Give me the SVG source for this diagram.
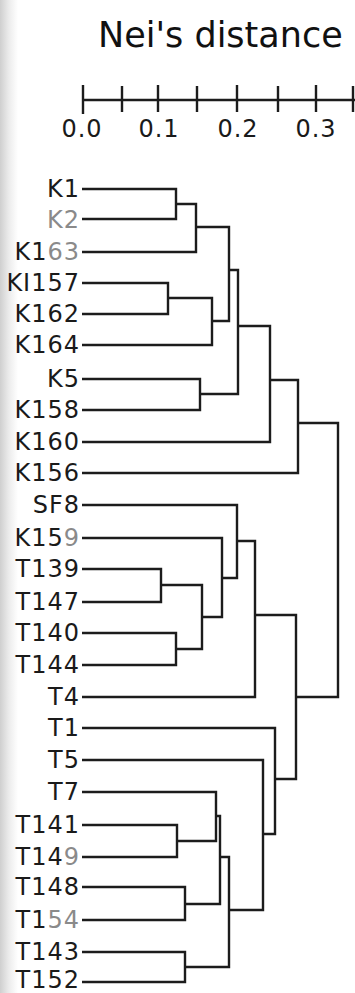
<svg xmlns="http://www.w3.org/2000/svg" width="355" height="993" viewBox="0 0 355 993">
<defs>
<linearGradient id="edge" x1="0" y1="0" x2="1" y2="0">
<stop offset="0" stop-color="#cfcfcf"/>
<stop offset="0.5" stop-color="#ececec"/>
<stop offset="1" stop-color="#ffffff"/>
</linearGradient>
<style>
.lbl{font-family:"DejaVu Sans","Liberation Sans",sans-serif;font-size:24px;fill:#1a1a1a;text-anchor:end;letter-spacing:1px}
.ax{font-family:"DejaVu Sans","Liberation Sans",sans-serif;font-size:24px;fill:#1a1a1a;text-anchor:middle;letter-spacing:1px}
.ttl{font-family:"DejaVu Sans","Liberation Sans",sans-serif;font-size:35px;fill:#111}
.g{fill:#8a8a8a}
.br{fill:none;stroke:#1c1c1c;stroke-width:2.4}
</style>
</defs>
<rect width="355" height="993" fill="#ffffff"/>
<rect x="0" y="0" width="18" height="993" fill="url(#edge)"/>
<g id="title"><text class="ttl" x="98" y="47">Nei's distance</text></g>
<g id="axis">
<path class="br" d="M83 100 H355 M83 85 V114 M122 86 V112 M158 85 V112 M197 86 V112 M237 85 V112 M278 86 V112 M316 85 V112 M353 86 V112"/>
<text class="ax" x="82" y="137">0.0</text>
<text class="ax" x="159" y="137">0.1</text>
<text class="ax" x="238" y="137">0.2</text>
<text class="ax" x="316" y="137">0.3</text>
</g>
<g id="connectors">
<path class="br" d="M82 189 H176 V219 H82"/>
<path class="br" d="M176 204 H196 V252 H82"/>
<path class="br" d="M82 283 H168 V314 H82"/>
<path class="br" d="M168 298 H212 V345 H82"/>
<path class="br" d="M196 227 H229 V321 H212"/>
<path class="br" d="M82 379 H200 V410 H82"/>
<path class="br" d="M229 270 H238 V394 H200"/>
<path class="br" d="M238 326 H270 V442 H82"/>
<path class="br" d="M270 380 H298 V473 H82"/>
<path class="br" d="M82 569 H161 V602 H82"/>
<path class="br" d="M82 633 H176 V665 H82"/>
<path class="br" d="M161 585 H202 V649 H176"/>
<path class="br" d="M82 538 H222 V617 H202"/>
<path class="br" d="M82 505 H237 V578 H222"/>
<path class="br" d="M237 541 H255 V697 H82"/>
<path class="br" d="M82 825 H177 V857 H82"/>
<path class="br" d="M82 792 H216 V841 H177"/>
<path class="br" d="M82 887 H185 V920 H82"/>
<path class="br" d="M216 816 H220 V904 H185"/>
<path class="br" d="M82 952 H185 V982 H82"/>
<path class="br" d="M220 857 H229 V967 H185"/>
<path class="br" d="M82 760 H263 V910 H229"/>
<path class="br" d="M82 728 H275 V834 H263"/>
<path class="br" d="M255 615 H296 V779 H275"/>
<path class="br" d="M298 423 H338 V697 H296"/>
</g>
<g id="n-K1"><text class="lbl" x="80" y="197">K1</text></g>
<g id="n-K2"><text class="lbl g" x="80" y="228">K2</text></g>
<g id="n-K163"><text class="lbl" x="80" y="260">K1<tspan class="g">63</tspan></text></g>
<g id="n-KI157"><text class="lbl" x="80" y="291">KI157</text></g>
<g id="n-K162"><text class="lbl" x="80" y="322">K162</text></g>
<g id="n-K164"><text class="lbl" x="80" y="353">K164</text></g>
<g id="n-K5"><text class="lbl" x="80" y="387">K5</text></g>
<g id="n-K158"><text class="lbl" x="80" y="418">K158</text></g>
<g id="n-K160"><text class="lbl" x="80" y="450">K160</text></g>
<g id="n-K156"><text class="lbl" x="80" y="481">K156</text></g>
<g id="n-SF8"><text class="lbl" x="80" y="513">SF8</text></g>
<g id="n-K159"><text class="lbl" x="80" y="546">K15<tspan class="g">9</tspan></text></g>
<g id="n-T139"><text class="lbl" x="80" y="577">T139</text></g>
<g id="n-T147"><text class="lbl" x="80" y="610">T147</text></g>
<g id="n-T140"><text class="lbl" x="80" y="641">T140</text></g>
<g id="n-T144"><text class="lbl" x="80" y="673">T144</text></g>
<g id="n-T4"><text class="lbl" x="80" y="705">T4</text></g>
<g id="n-T1"><text class="lbl" x="80" y="736">T1</text></g>
<g id="n-T5"><text class="lbl" x="80" y="768">T5</text></g>
<g id="n-T7"><text class="lbl" x="80" y="800">T7</text></g>
<g id="n-T141"><text class="lbl" x="80" y="833">T141</text></g>
<g id="n-T149"><text class="lbl" x="80" y="865">T14<tspan class="g">9</tspan></text></g>
<g id="n-T148"><text class="lbl" x="80" y="895">T148</text></g>
<g id="n-T154"><text class="lbl" x="80" y="928">T1<tspan class="g">54</tspan></text></g>
<g id="n-T143"><text class="lbl" x="80" y="960">T143</text></g>
<g id="n-T152"><text class="lbl" x="80" y="988">T152</text></g>
</svg>
